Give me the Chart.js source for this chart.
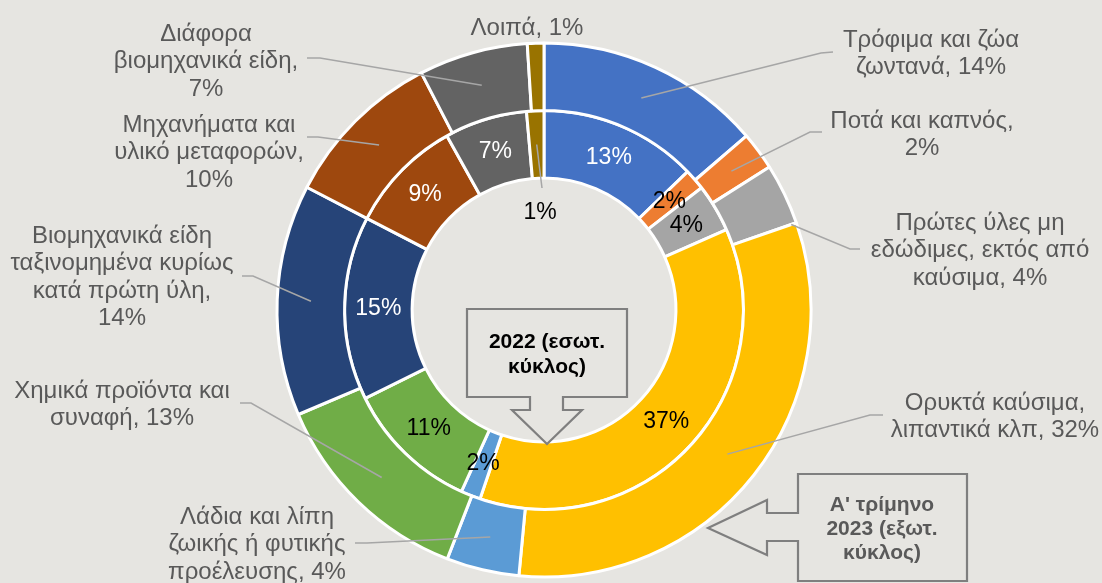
<!DOCTYPE html>
<html>
<head>
<meta charset="utf-8">
<title>Εισαγωγές ανά κατηγορία</title>
<script src="https://cdn.jsdelivr.net/npm/chart.js@4.4.0/dist/chart.umd.min.js"></script>
<style>
	html, body { margin: 0; padding: 0; background: #E6E5E1; overflow: hidden; }
	#chart { display: block; }
</style>
</head>
<body>
<canvas id="chart" width="1102" height="583"></canvas>
<script>
// categories (split in lines the way the labels show them)
var categories = [
	['Τρόφιμα και ζώα', 'ζωντανά'],
	['Ποτά και καπνός'],
	['Πρώτες ύλες μη', 'εδώδιμες, εκτός από', 'καύσιμα'],
	['Ορυκτά καύσιμα,', 'λιπαντικά κλπ'],
	['Λάδια και λίπη', 'ζωικής ή φυτικής', 'προέλευσης'],
	['Χημικά προϊόντα και', 'συναφή'],
	['Βιομηχανικά είδη', 'ταξινομημένα κυρίως', 'κατά πρώτη ύλη'],
	['Μηχανήματα και', 'υλικό μεταφορών'],
	['Διάφορα', 'βιομηχανικά είδη'],
	['Λοιπά']
];

// % share, outer ring = Α' τρίμηνο 2023, inner ring = 2022
var values_2023_q1 = [13.7, 2.3, 3.7, 31.8, 4.4, 12.7, 14.0, 9.8, 6.6, 1.0];
var values_2022 = [12.8, 1.7, 3.9, 36.8, 1.6, 10.9, 14.9, 9.3, 6.7, 1.4];

var series_names = ["Α' τρίμηνο 2023", '2022'];
var callout_outer = ["Α' τρίμηνο", '2023 (εξωτ.', 'κύκλος)'];
var callout_inner = ['2022 (εσωτ.', 'κύκλος)'];

var colors = ['#4472C4', '#ED7D31', '#A5A5A5', '#FFC000', '#5B9BD5',
			'#70AD47', '#264478', '#9E480E', '#636363', '#997300'];

var bg = '#E6E5E1';
var font_family = '"Liberation Sans", Arial, sans-serif';

// where the outer labels go (center x, first line y) and their leader lines
var outer_label_pos = [
	{x: 931, y: 40, brk: false, start: [833, 52], elbow: [821, 53]},
	{x: 922, y: 121, brk: true, start: [822, 132], elbow: [810, 132]},
	{x: 980, y: 223, brk: false, start: [860, 249], elbow: [850, 249], t: 1.0, r: 0.92},
	{x: 995, y: 403, brk: false, start: [883, 415], elbow: [870, 415]},
	{x: 257, y: 517, brk: false, start: [355, 543], elbow: [367, 543]},
	{x: 122, y: 391, brk: false, start: [240, 403], elbow: [251, 403]},
	{x: 122, y: 236, brk: true, start: [242, 276], elbow: [253, 276]},
	{x: 209, y: 125, brk: true, start: [307, 137], elbow: [318, 137]},
	{x: 206, y: 34, brk: true, start: [307, 58], elbow: [320, 58]},
	{x: 527, y: 28, brk: false}
];
var inner_label_colors = ['#FFFFFF', '#000000', '#000000', '#000000', '#000000',
						'#000000', '#FFFFFF', '#FFFFFF', '#FFFFFF', '#000000'];

function pct (values, i) {
	var total = values.reduce(function(a, b) { return a + b; }, 0);
	return Math.round(values[i] / total * 100) + '%';
}

function arc_point (arc, t, r) {
	var p = arc.getProps(['x', 'y', 'startAngle', 'endAngle', 'innerRadius', 'outerRadius'], true);
	var a = p.startAngle + (p.endAngle - p.startAngle) * t;
	var rr = p.innerRadius + (p.outerRadius - p.innerRadius) * r;
	return [p.x + Math.cos(a) * rr, p.y + Math.sin(a) * rr];
}

function draw_leader (ctx, pts) {
	ctx.save();
	ctx.strokeStyle = '#A6A6A6';
	ctx.lineWidth = 1.5;
	ctx.beginPath();
	ctx.moveTo(pts[0][0], pts[0][1]);
	for (var i = 1; i < pts.length; i++) {
		ctx.lineTo(pts[i][0], pts[i][1]);
	}
	ctx.stroke();
	ctx.restore();
}

function draw_lines (ctx, lines, x, y, lh) {
	for (var i = 0; i < lines.length; i++) {
		ctx.fillText(lines[i], x, y + i * lh);
	}
}

function draw_callout (ctx, path, lines, tx, ty, lh, color) {
	ctx.save();
	ctx.beginPath();
	ctx.moveTo(path[0][0], path[0][1]);
	for (var i = 1; i < path.length; i++) {
		ctx.lineTo(path[i][0], path[i][1]);
	}
	ctx.closePath();
	ctx.fillStyle = bg;
	ctx.fill();
	ctx.strokeStyle = '#7F7F7F';
	ctx.lineWidth = 2.2;
	ctx.stroke();
	ctx.fillStyle = color;
	ctx.font = 'bold 21px ' + font_family;
	ctx.textAlign = 'center';
	ctx.textBaseline = 'middle';
	draw_lines(ctx, lines, tx, ty, lh);
	ctx.restore();
}

var label_plugin = {
	id: 'doughnut_labels',
	afterDatasetsDraw: function(chart) {
		var ctx = chart.ctx;
		var outer = chart.getDatasetMeta(0).data;
		var inner = chart.getDatasetMeta(1).data;

		// leader lines of the outer ring
		outer.forEach(function(arc, i) {
			var pos = outer_label_pos[i];
			if (!pos.start) return;
			var end = arc_point(arc, pos.t === undefined ? 0.5 : pos.t, pos.r === undefined ? 0.5 : pos.r);
			draw_leader(ctx, [pos.start, pos.elbow, end]);
		});
		// the inner 1% sits in the hole, with its own line
		var last = inner.length - 1;
		draw_leader(ctx, [arc_point(inner[last], 0.5, 0.5), [542, 188]]);

		ctx.save();
		ctx.textAlign = 'center';
		ctx.textBaseline = 'middle';

		// outer labels: name, percent
		ctx.font = '24px ' + font_family;
		ctx.fillStyle = '#595959';
		outer.forEach(function(arc, i) {
			var pos = outer_label_pos[i];
			var lines = categories[i].slice();
			var p = pct(values_2023_q1, i);
			if (pos.brk) {
				lines[lines.length - 1] += ',';
				lines.push(p);
			} else {
				lines[lines.length - 1] += ', ' + p;
			}
			draw_lines(ctx, lines, pos.x, pos.y, 27.5);
		});

		// inner ring percentages
		ctx.font = '23px ' + font_family;
		inner.forEach(function(arc, i) {
			var c = arc.tooltipPosition(true);
			var x = c.x, y = c.y;
			if (i == last) { x = 540; y = 213; }
			ctx.fillStyle = inner_label_colors[i];
			ctx.fillText(pct(values_2022, i), x, y);
		});
		ctx.restore();

		// callouts
		draw_callout(ctx, [[467, 309], [627, 309], [627, 397], [563, 397], [563, 410], [582, 410],
			[547, 444], [512, 410], [530, 410], [530, 397], [467, 397]],
			callout_inner, 547, 342, 25, '#000000');
		draw_callout(ctx, [[798, 474], [967, 474], [967, 581], [798, 581], [798, 541], [767, 541],
			[767, 555], [708, 528], [767, 500], [767, 513], [798, 513]],
			callout_outer, 882, 505, 24, '#595959');
	}
};

var chart = new Chart(document.getElementById('chart'), {
	type: 'doughnut',
	data: {
		labels: categories.map(function(c) { return c.join(' '); }),
		datasets: [{
			label: series_names[0],
			data: values_2023_q1,
			backgroundColor: colors,
			borderColor: '#FFFFFF',
			borderWidth: 3,
			clip: false
		}, {
			label: series_names[1],
			data: values_2022,
			backgroundColor: colors,
			borderColor: '#FFFFFF',
			borderWidth: 3,
			clip: false
		}]
	},
	options: {
		responsive: false,
		devicePixelRatio: 1,
		animation: false,
		radius: 267,
		cutout: '49.4%',
		layout: {
			padding: {left: 0, right: 14, top: 37, bottom: 0}
		},
		plugins: {
			legend: { display: false },
			tooltip: { enabled: false }
		}
	},
	plugins: [label_plugin]
});
</script>
</body>
</html>
